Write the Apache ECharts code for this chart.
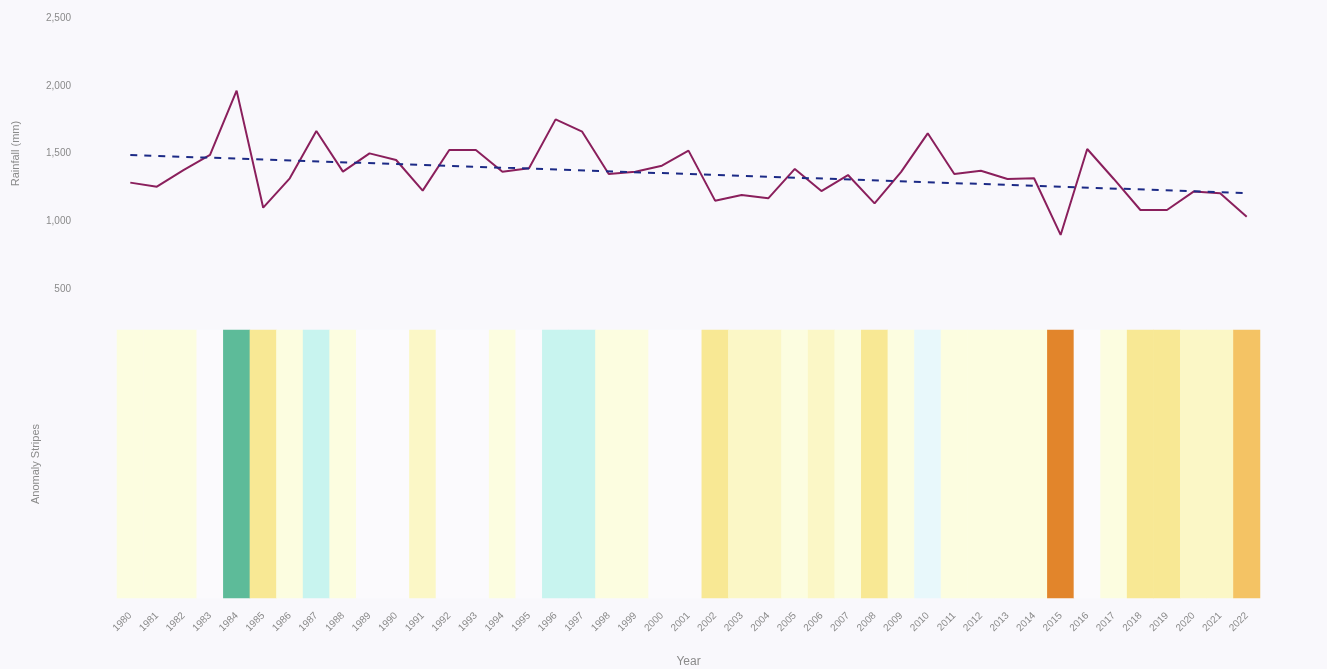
<!DOCTYPE html>
<html>
<head>
<meta charset="utf-8">
<script src="https://cdn.jsdelivr.net/npm/echarts@6/dist/echarts.min.js"></script>
<style>
  html, body { margin: 0; padding: 0; background: #f9f8fc; }
  #chart { width: 1327px; height: 669px; }
</style>
</head>
<body>
<div id="chart"></div>
<script>
// years on the x axis
let years = []
for (let y = 1980; y <= 2022; y++) years.push(String(y))

// annual rainfall (mm)
let rainfall = [
  1285, 1255, 1378, 1489, 1964, 1100, 1317, 1666, 1366, 1501,
  1452, 1226, 1526, 1526, 1366, 1391, 1752, 1661, 1349, 1366,
  1410, 1521, 1152, 1194, 1169, 1386, 1223, 1341, 1132, 1364,
  1649, 1349, 1373, 1312, 1317, 899, 1533, 1312, 1083, 1083,
  1219, 1206, 1034
]

// trend line end points (first and last year)
let trendEnds = [1489, 1208]

let yTicks = { min: 500, max: 2500, step: 500 }

let trend = years.map((y, i) => {
  if (i === 0) return trendEnds[0]
  if (i === years.length - 1) return trendEnds[1]
  return null
})

let stripes = rainfall.map((v, i) => [i, 0, v])

let labelColor = '#8a8a8a'

let option = {
  backgroundColor: '#f9f8fc',
  animation: false,
  grid: [
    { left: 117, right: 67, top: 18, height: 271 },
    { left: 117, right: 67, top: 330, height: 268 }
  ],
  xAxis: [
    {
      type: 'category',
      gridIndex: 0,
      data: years,
      boundaryGap: true,
      axisLine: { show: false },
      axisTick: { show: false },
      axisLabel: { show: false },
      splitLine: { show: false }
    },
    {
      type: 'category',
      gridIndex: 1,
      data: years,
      boundaryGap: true,
      name: 'Year',
      nameLocation: 'middle',
      nameGap: 58,
      nameTextStyle: { color: labelColor, fontSize: 12 },
      axisLine: { show: false },
      axisTick: { show: false },
      axisLabel: {
        color: labelColor,
        fontSize: 10,
        rotate: 45,
        interval: 0,
        margin: 16
      },
      splitLine: { show: false }
    }
  ],
  yAxis: [
    {
      type: 'value',
      gridIndex: 0,
      min: yTicks.min,
      max: yTicks.max,
      interval: yTicks.step,
      name: 'Rainfall (mm)',
      nameLocation: 'middle',
      nameGap: 96,
      nameTextStyle: { color: labelColor, fontSize: 11 },
      axisLine: { show: false },
      axisTick: { show: false },
      splitLine: { show: false },
      axisLabel: { color: labelColor, fontSize: 10, margin: 46 }
    },
    {
      type: 'category',
      gridIndex: 1,
      data: [''],
      name: 'Anomaly Stripes',
      nameLocation: 'middle',
      nameGap: 76,
      nameTextStyle: { color: labelColor, fontSize: 11 },
      axisLine: { show: false },
      axisTick: { show: false },
      axisLabel: { show: false },
      splitLine: { show: false }
    }
  ],
  visualMap: {
    type: 'piecewise',
    show: false,
    seriesIndex: 2,
    dimension: 2,
    pieces: [
      { lt: 950, color: '#e2852b' },
      { gte: 950, lt: 1060, color: '#f4c364' },
      { gte: 1060, lt: 1160, color: '#f8e894' },
      { gte: 1160, lt: 1250, color: '#fbf7c6' },
      { gte: 1250, lt: 1390, color: '#fcfde0' },
      { gte: 1390, lt: 1560, color: '#fbfafd' },
      { gte: 1560, lt: 1655, color: '#e8f8fb' },
      { gte: 1655, lt: 1850, color: '#c8f4ef' },
      { gte: 1850, color: '#5dbb99' }
    ]
  },
  series: [
    {
      name: 'Rainfall',
      type: 'line',
      xAxisIndex: 0,
      yAxisIndex: 0,
      data: rainfall,
      symbol: 'none',
      lineStyle: { color: '#8a1f5c', width: 2 },
      z: 3
    },
    {
      name: 'Trend',
      type: 'line',
      xAxisIndex: 0,
      yAxisIndex: 0,
      data: trend,
      connectNulls: true,
      symbol: 'none',
      lineStyle: { color: '#1c2a86', width: 2, type: [7, 7] },
      z: 4
    },
    {
      name: 'Stripes',
      type: 'heatmap',
      xAxisIndex: 1,
      yAxisIndex: 1,
      data: stripes
    }
  ]
}

let chart = echarts.init(document.getElementById('chart'))
chart.setOption(option)
</script>
</body>
</html>
